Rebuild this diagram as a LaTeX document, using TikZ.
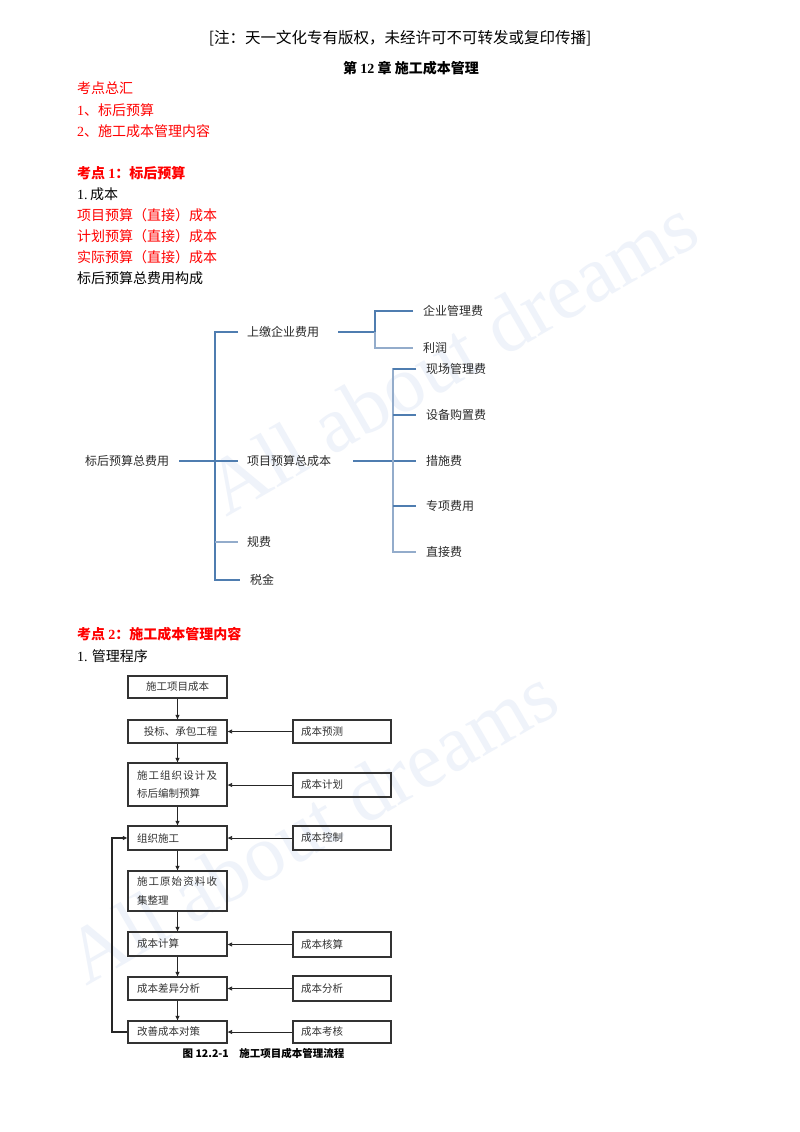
\documentclass[tikz,border=0pt]{standalone}
\usepackage{fontspec}
\setmainfont{Liberation Serif}
\newfontfamily\cj{Noto Sans CJK SC}
\usetikzlibrary{arrows.meta}
\definecolor{kdred}{HTML}{FF0000}
\definecolor{treeline}{HTML}{4F7DB0}
\definecolor{treelight}{HTML}{93ACCB}
\definecolor{wmcol}{HTML}{EFF3FA}
\definecolor{boxtxt}{HTML}{333333}
\definecolor{treetxtc}{HTML}{2A2A2A}
\newcommand\fs[1]{\fontsize{#1}{#1}\selectfont}
\newcommand\fsb[2]{\fontsize{#1}{#2}\selectfont}
\begin{document}
\begin{tikzpicture}[x=1pt,y=-1pt,
  bodytxt/.style={anchor=west,inner sep=0pt,font=\cj\fs{14},text=black},
  redtxt/.style={bodytxt,text=kdred},
  redbold/.style={bodytxt,text=kdred,font=\cj\bfseries\fs{14}},
  treetxt/.style={anchor=west,inner sep=0pt,font=\cj\fs{12},text=treetxtc},
  tl/.style={draw=treeline,line width=1.4pt},
  tllight/.style={draw=treelight,line width=1.1pt},
  lbox/.style={draw=black!80,line width=1.3pt,minimum width=99pt,inner xsep=9pt,inner ysep=0pt,
    text width=81pt,align=left,font=\cj\fs{10.5},text=boxtxt},
  rbox/.style={draw=black!80,line width=1.3pt,minimum width=98pt,inner xsep=8pt,inner ysep=0pt,
    text width=82pt,align=left,font=\cj\fs{10.5},text=boxtxt},
  flow/.style={draw=black!85,line width=0.9pt,-{Triangle[length=4.5pt,width=4pt]}},
  wmark/.style={rotate=30,inner sep=0pt,text=wmcol,font=\rmfamily\fs{80}}
]
\useasboundingbox (0,0) rectangle (800,1132);
\fill[white] (0,0) rectangle (800,1132);

% watermarks
\node[wmark] (wm1) at (451,356) {All about dreams};
\node[wmark] (wm2) at (311,825) {All about dreams};

% header and title
\node[inner sep=0pt,font=\cj\fs{15.5}] (hdr) at (400,38) {[注：天一文化专有版权，未经许可不可转发或复印传播]};
\node[inner sep=0pt,font=\cj\bfseries\fs{14}] (title) at (411,68) {第 {\rmfamily\bfseries 12} 章 施工成本管理};

% left texts
\node[redtxt] (t1) at (77,88) {考点总汇};
\node[redtxt] (t2) at (77,110) {{\rmfamily 1}、标后预算};
\node[redtxt] (t3) at (77,131) {{\rmfamily 2}、施工成本管理内容};
\node[redbold] (t4) at (77,173) {考点 {\rmfamily\bfseries 1}：标后预算};
\node[bodytxt] (t5) at (77,194) {{\rmfamily 1.\,}成本};
\node[redtxt] (t6) at (77,215) {项目预算（直接）成本};
\node[redtxt] (t7) at (77,236) {计划预算（直接）成本};
\node[redtxt] (t8) at (77,257) {实际预算（直接）成本};
\node[bodytxt] (t9) at (77,278) {标后预算总费用构成};

% tree
\node[treetxt] (root) at (85,461) {标后预算总费用};
\node[treetxt] (sj) at (247,332) {上缴企业费用};
\node[treetxt] (xm) at (247,461) {项目预算总成本};
\node[treetxt] (gf) at (247,542) {规费};
\node[treetxt] (sjin) at (250,580) {税金};
\node[treetxt] (qy) at (423,311) {企业管理费};
\node[treetxt] (lr) at (423,348) {利润};
\node[treetxt] (xc) at (426,369) {现场管理费};
\node[treetxt] (sb) at (426,415) {设备购置费};
\node[treetxt] (cs) at (426,461) {措施费};
\node[treetxt] (zx) at (426,506) {专项费用};
\node[treetxt] (zj) at (426,552) {直接费};

\coordinate (rootE) at (179,461);
\coordinate (xmW) at (238,461);
\coordinate (vTop) at (215,332);
\coordinate (sjW) at (238,332);
\coordinate (gfL) at (215,542);
\coordinate (gfW) at (238,542);
\coordinate (vBot) at (215,580);
\coordinate (sjinW) at (240,580);
\draw[tl] (rootE) -- (xmW);
\draw[tl] (sjW) -- (vTop) -- (vBot) -- (sjinW);
\draw[tllight] (gfL) -- (gfW);

\coordinate (sjE) at (338,332);
\coordinate (uMid) at (375,332);
\coordinate (uTop) at (375,311);
\coordinate (uBot) at (375,348);
\coordinate (qyW) at (413,311);
\coordinate (lrW) at (413,348);
\draw[tl] (sjE) -- (uMid);
\draw[tl] (qyW) -- (uTop) -- (uMid);
\draw[tllight] (uMid) -- (uBot) -- (lrW);

\coordinate (xmE) at (353,461);
\coordinate (csW) at (416,461);
\coordinate (rTop) at (393,369);
\coordinate (rBot) at (393,552);
\coordinate (xcW) at (416,369);
\coordinate (sbL) at (393,415);
\coordinate (sbW) at (416,415);
\coordinate (zxL) at (393,506);
\coordinate (zxW) at (416,506);
\coordinate (zjW) at (416,552);
\draw[tl] (xmE) -- (csW);
\draw[tllight] (xcW) -- (rTop) -- (rBot) -- (zjW);
\draw[tl] (xcW) -- (rTop);
\draw[tl] (sbL) -- (sbW);
\draw[tl] (zxL) -- (zxW);

% section 2
\node[redbold] (t10) at (77,634) {考点 {\rmfamily\bfseries 2}：施工成本管理内容};
\node[bodytxt] (t11) at (77,656) {{\rmfamily 1.} 管理程序};

% flowchart left
\node[lbox,align=center,minimum height=22pt] (b1) at (177.5,687) {施工项目成本};
\node[lbox,align=center,minimum height=23pt] (b2) at (177.5,731.5) {\hspace*{6pt}投标、承包工程};
\node[lbox,minimum height=43pt,font=\cj\fsb{10.5}{18}] (b3) at (177.5,784.5)
  {\makebox[80pt][s]{施\hfill 工\hfill 组\hfill 织\hfill 设\hfill 计\hfill 及}\\标后编制预算};
\node[lbox,minimum height=24pt] (b4) at (177.5,838) {组织施工};
\node[lbox,minimum height=40pt,font=\cj\fsb{10.5}{19}] (b5) at (177.5,891)
  {\makebox[80pt][s]{施\hfill 工\hfill 原\hfill 始\hfill 资\hfill 料\hfill 收}\\\makebox[30pt][s]{集\hfill 整\hfill 理}};
\node[lbox,minimum height=24pt] (b6) at (177.5,944) {成本计算};
\node[lbox,minimum height=23pt] (b7) at (177.5,988.5) {成本差异分析};
\node[lbox,minimum height=22pt] (b8) at (177.5,1032) {改善成本对策};

% flowchart right
\node[rbox,minimum height=23pt] (r1) at (342,731.5) {成本预测};
\node[rbox,minimum height=24pt] (r2) at (342,785) {成本计划};
\node[rbox,minimum height=24pt] (r3) at (342,838) {成本控制};
\node[rbox,minimum height=25pt] (r4) at (342,944.5) {成本核算};
\node[rbox,minimum height=25pt] (r5) at (342,988.5) {成本分析};
\node[rbox,minimum height=22pt] (r6) at (342,1032) {成本考核};

% vertical arrows
\draw[flow] (b1) -- (b2);
\draw[flow] (b2) -- (b3);
\draw[flow] (b3) -- (b4);
\draw[flow] (b4) -- (b5);
\draw[flow] (b5) -- (b6);
\draw[flow] (b6) -- (b7);
\draw[flow] (b7) -- (b8);

% horizontal arrows
\draw[flow] (r1.west) -- (r1.west -| b2.east);
\draw[flow] (r2.west) -- (r2.west -| b3.east);
\draw[flow] (r3.west) -- (r3.west -| b4.east);
\draw[flow] (r4.west) -- (r4.west -| b6.east);
\draw[flow] (r5.west) -- (r5.west -| b7.east);
\draw[flow] (r6.west) -- (r6.west -| b8.east);

% feedback loop
\coordinate (fbx) at (112,0);
\draw[flow,line width=1.2pt] (b8.west) -- (b8.west -| fbx) -- (b4.west -| fbx) -- (b4.west);

% caption
\node[inner sep=0pt,font=\cj\bfseries\fs{10.5}] (cap) at (263.5,1053) {图 12.2-1\quad 施工项目成本管理流程};
\end{tikzpicture}
\end{document}
